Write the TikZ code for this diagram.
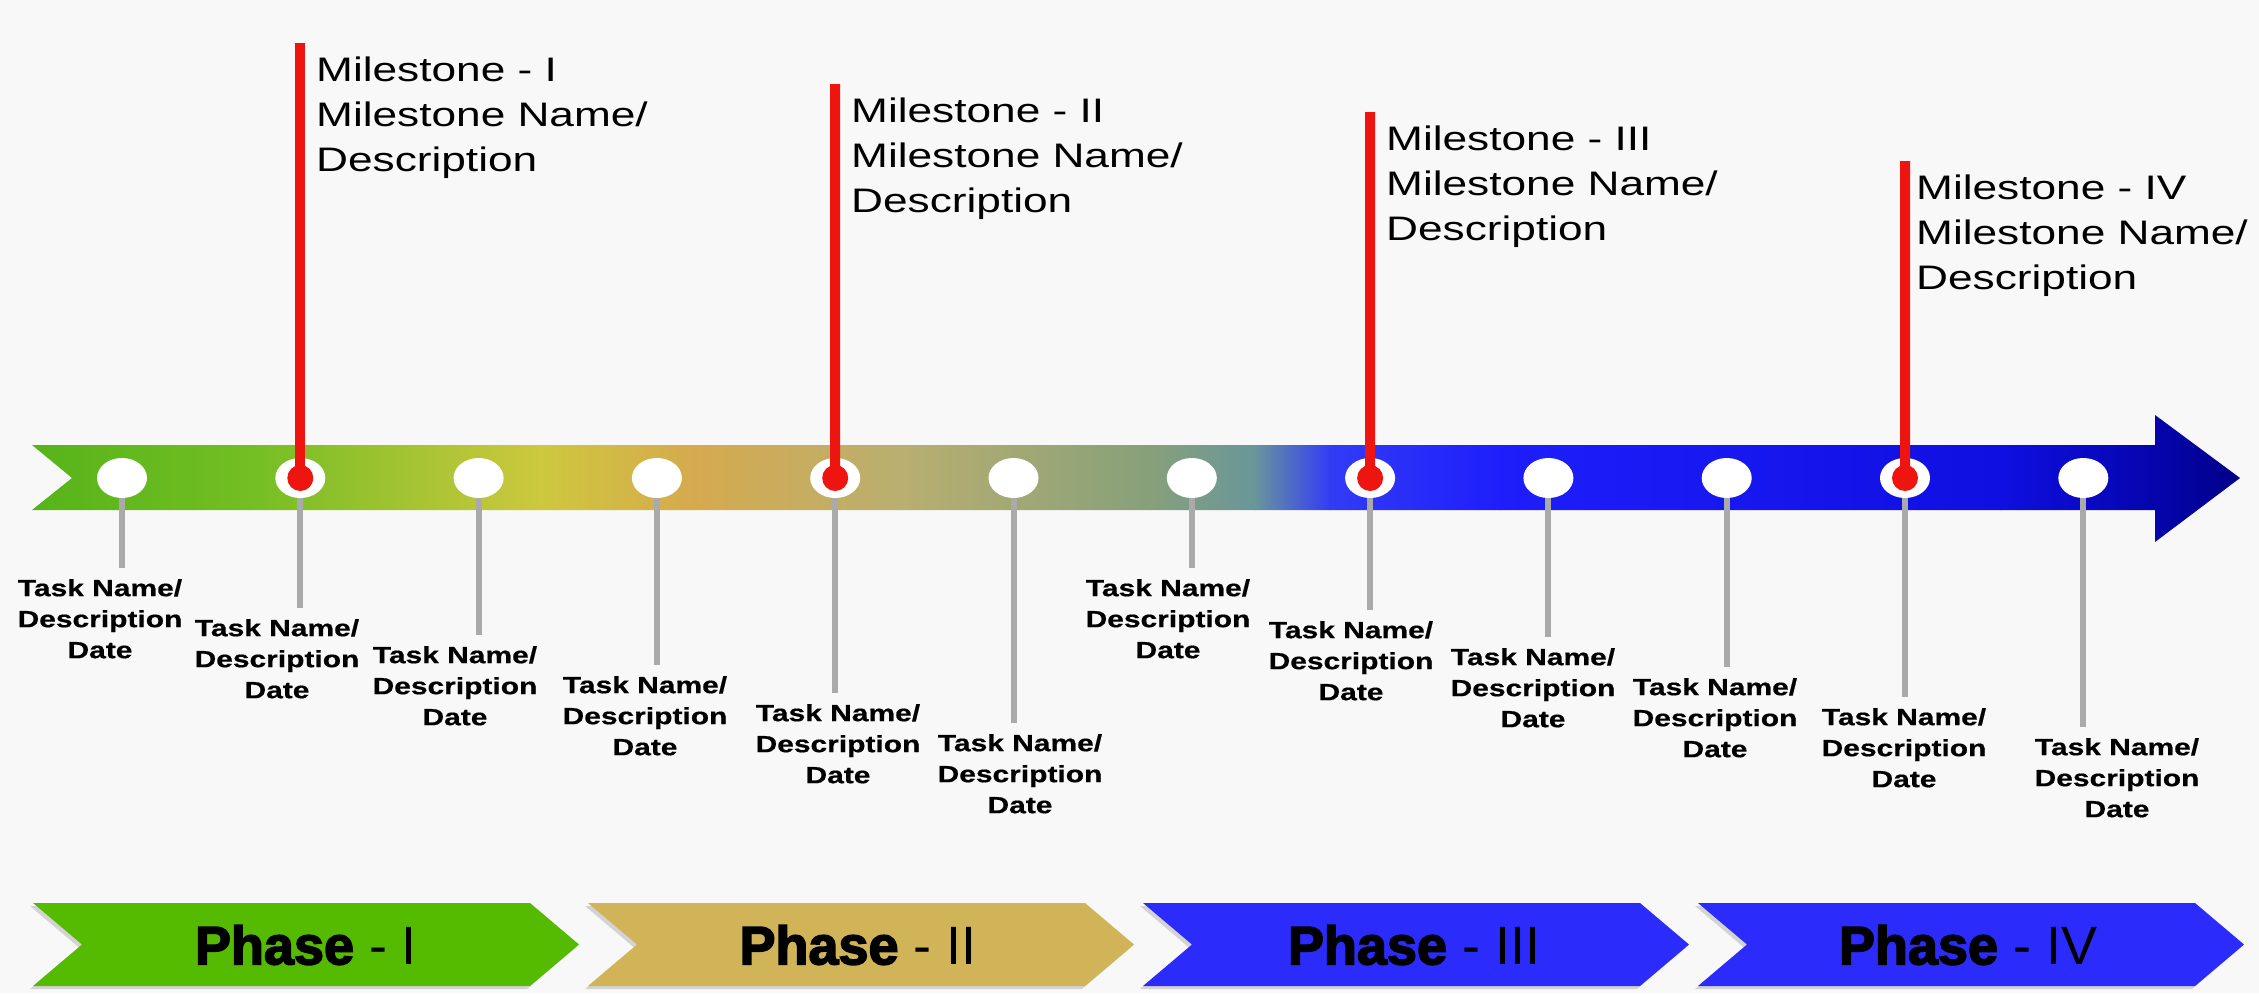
\documentclass[tikz,border=0pt]{standalone}
\usepackage{fontspec}
\setmainfont{Liberation Sans}
\newfontfamily\taskfont{Liberation Sans}[FakeStretch=1.28,FakeBold=0.6]
\newfontfamily\msfont{Liberation Sans}[FakeStretch=1.3]
\newfontfamily\phasebold{Liberation Sans}[FakeBold=3]
\usetikzlibrary{shapes.geometric}
\definecolor{bg}{RGB}{248,248,248}
\definecolor{phgreen}{RGB}{85,187,0}
\definecolor{phgold}{RGB}{209,180,87}
\definecolor{phblue}{RGB}{43,43,252}
\definecolor{gA}{RGB}{85,180,25}
\definecolor{gB}{RGB}{115,190,35}
\definecolor{gC}{RGB}{205,200,62}
\definecolor{gD}{RGB}{214,170,78}
\definecolor{gE}{RGB}{185,175,112}
\definecolor{gF}{RGB}{135,160,122}
\definecolor{gG}{RGB}{105,150,155}
\definecolor{gH}{RGB}{50,60,245}
\definecolor{gI}{RGB}{30,30,252}
\definecolor{gJ}{RGB}{15,15,225}
\definecolor{gL}{RGB}{5,5,175}
\definecolor{gK}{RGB}{0,0,135}
\definecolor{msred}{RGB}{238,20,15}
\definecolor{stem}{RGB}{170,170,170}
\begin{document}
\begin{tikzpicture}[x=1pt,y=-1pt,
  circ/.style={ellipse, fill=white, minimum width=50pt, minimum height=40pt, inner sep=0pt},
  task/.style={font=\taskfont\bfseries\fontsize{23.4}{31}\selectfont, align=center, inner sep=0pt, anchor=north},
  mstext/.style={font=\msfont\fontsize{34}{45}\selectfont, align=left, inner sep=0pt, anchor=north west},
  tline/.style={draw=stem, line width=6pt, shorten >=11pt},
  redline/.style={draw=msred, line width=10pt},
  phasetxt/.style={font=\fontsize{54}{60}\selectfont, inner sep=0pt}]
\useasboundingbox (0,0) rectangle (2259,993);
\fill[bg] (0,0) rectangle (2259,993);

% phase chevrons
\foreach \k/\col in {0/phgreen,1/phgold,2/phblue,3/phblue}{
  \pgfmathsetmacro{\L}{33+555*\k}
  \fill[gray,opacity=0.3] (\L-3,906) -- (\L+497-3,906) -- (\L+546-3,947.5) -- (\L+497-3,989) -- (\L-3,989) -- (\L+49-3,947.5) -- cycle;
  \fill[\col] (\L,903) -- (\L+497,903) -- (\L+546,944.5) -- (\L+497,986) -- (\L,986) -- (\L+49,944.5) -- cycle;
}
\node[phasetxt] (p1) at (306,945) {{\phasebold\bfseries Phase} - I};
\node[phasetxt] (p2) at (858,945) {{\phasebold\bfseries Phase} - II};
\node[phasetxt] (p3) at (1414,945) {{\phasebold\bfseries Phase} - III};
\node[phasetxt] (p4) at (1968,945) {{\phasebold\bfseries Phase} - IV};

% main arrow with gradient
\begin{scope}
\clip (32,445) -- (2155,445) -- (2155,415) -- (2240,478) -- (2155,542) -- (2155,510) -- (32,510) -- (72,478) -- cycle;
\foreach \xa/\xb/\ca/\cb in {30/250/gA/gB, 250/540/gB/gC, 540/690/gC/gD, 690/900/gD/gE, 900/1150/gE/gF, 1150/1255/gF/gG, 1255/1330/gG/gH, 1330/1500/gH/gI, 1500/2000/gI/gJ, 2000/2150/gJ/gL, 2150/2242/gL/gK}{
  \shade[left color=\ca, right color=\cb] (\xa-0.5,410) rectangle (\xb+0.5,546);
}
\end{scope}

% circles
\foreach \i in {0,...,11}{
  \coordinate (cc\i) at ({122+178.3*\i},478);
}
% task labels and stems
\foreach \i/\lx/\ly in {0/100/588, 1/277/628, 2/455/655, 3/645/685, 4/838/713, 5/1020/743, 6/1168/588, 7/1351/630, 8/1533/657, 9/1715/687, 10/1904/717, 11/2117/747}{
  \node[task] (t\i) at (\lx,\ly-9) {Task Name/\\Description\\Date};
  \draw[tline] (cc\i) -- (cc\i |- t\i.north);
}
\foreach \i in {0,...,11}{
  \node[circ] (c\i) at (cc\i) {};
}

% milestones
\coordinate (m1) at (300.3,43);
\coordinate (m2) at (835.2,84);
\coordinate (m3) at (1370.1,112);
\coordinate (m4) at (1905,161);
\draw[redline] (c1.center) -- (m1);
\draw[redline] (c4.center) -- (m2);
\draw[redline] (c7.center) -- (m3);
\draw[redline] (c10.center) -- (m4);
\foreach \i in {1,4,7,10}{
  \fill[msred] (c\i.center) circle (13);
}
\node[mstext] (ms1) at (316,57) {Milestone - I\\Milestone Name/\\Description};
\node[mstext] (ms2) at (851,98) {Milestone - II\\Milestone Name/\\Description};
\node[mstext] (ms3) at (1386,126) {Milestone - III\\Milestone Name/\\Description};
\node[mstext] (ms4) at (1916,175) {Milestone - IV\\Milestone Name/\\Description};
\end{tikzpicture}
\end{document}
